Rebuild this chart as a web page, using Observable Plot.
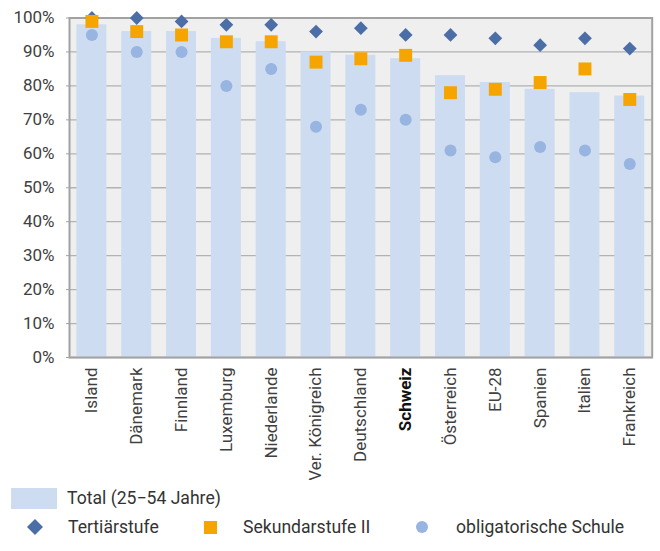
<!DOCTYPE html>
<html>
<head>
<meta charset="utf-8">
<script src="https://cdn.jsdelivr.net/npm/d3@7"></script>
<script src="https://cdn.jsdelivr.net/npm/@observablehq/plot@0.6"></script>
<style>
  body { margin: 0; background: #fff; font-family: Roboto, sans-serif; }
  #wrap { width: 660px; position: relative; }
  #legend { position: relative; height: 71px; font-family: Roboto, sans-serif; font-size: 17.6px; color: #333; }
  #legend .item { position: absolute; white-space: nowrap; }
</style>
</head>
<body>
<div id="wrap">
  <div id="chart"></div>
  <div id="legend"></div>
</div>
<script>
const countries = ["Island", "Dänemark", "Finnland", "Luxemburg", "Niederlande", "Ver. Königreich", "Deutschland", "Schweiz", "Österreich", "EU-28", "Spanien", "Italien", "Frankreich"];
const total      = [98, 96, 96, 94, 93, 90, 89, 88, 83, 81, 79, 78, 77];
const tertiaer   = [100, 100, 99, 98, 98, 96, 97, 95, 95, 94, 92, 94, 91];
const sekundar   = [99, 96, 95, 93, 93, 87, 88, 89, 78, 79, 81, 85, 76];
const obligat    = [95, 90, 90, 80, 85, 68, 73, 70, 61, 59, 62, 61, 57];
const yTicks = [0, 10, 20, 30, 40, 50, 60, 70, 80, 90, 100];

const seriesNames = { total: "Total (25−54 Jahre)", tertiaer: "Tertiärstufe", sekundar: "Sekundarstufe II", obligat: "obligatorische Schule" };
const colors = { total: "#cddcf0", tertiaer: "#4a6ea5", sekundar: "#f6a500", obligat: "#98b4e0" };

const data = countries.map((c, i) => ({ country: c, total: total[i], tertiaer: tertiaer[i], sekundar: sekundar[i], obligat: obligat[i] }));

const H = 480;
const chart = Plot.plot({
  width: 660,
  height: H,
  marginTop: 17.5,
  marginLeft: 69,
  marginRight: 8.3,
  marginBottom: H - 357,
  style: { fontFamily: "Roboto, sans-serif", fontSize: "17px", color: "#404040", background: "#fff" },
  x: { domain: countries, paddingInner: 0.33, paddingOuter: 0.165, round: false, label: null },
  y: { domain: [0, 100], label: null },
  marks: [
    Plot.frame({ fill: "#efefef", stroke: null }),
    Plot.ruleY(yTicks, { stroke: "#b2b2b2", strokeWidth: 1.3 }),
    Plot.barY(data, { x: "country", y: "total", fill: colors.total }),
    Plot.frame({ stroke: "#a2a2a2", strokeWidth: 2 }),
    Plot.axisY({ ticks: yTicks, tickFormat: d => d + "%", tickSize: 3, tickPadding: 12, stroke: "#a2a2a2", label: null }),
    Plot.axisX({ ticks: countries.filter(c => c !== "Schweiz"), tickRotate: -90, tickSize: 0, tickPadding: 10, label: null }),
    Plot.axisX({ ticks: ["Schweiz"], tickRotate: -90, tickSize: 0, tickPadding: 10, fontWeight: "bold", fill: "#111", label: null }),
    Plot.dot(data, { x: "country", y: "obligat", symbol: "circle", r: 6, fill: colors.obligat }),
    Plot.dot(data, { x: "country", y: "tertiaer", symbol: "diamond2", r: 6.2, fill: colors.tertiaer }),
    Plot.dot(data, { x: "country", y: "sekundar", symbol: "square", r: 7.3, fill: colors.sekundar })
  ]
});
document.getElementById("chart").appendChild(chart);

const legend = document.getElementById("legend");
const items = [
  { key: "total", sx: 11, tx: 67, row: 0, shape: "bar" },
  { key: "tertiaer", sx: 35, tx: 68, row: 1, shape: "diamond" },
  { key: "sekundar", sx: 210, tx: 243, row: 1, shape: "square" },
  { key: "obligat", sx: 422, tx: 456, row: 1, shape: "circle" }
];
const rowY = [18, 47];
for (const it of items) {
  const cy = rowY[it.row];
  const sw = document.createElementNS("http://www.w3.org/2000/svg", "svg");
  let w, h, inner;
  if (it.shape === "bar") { w = 46; h = 21; inner = `<rect width="46" height="21" fill="${colors[it.key]}"/>`; }
  else if (it.shape === "diamond") { w = 16; h = 16; inner = `<path d="M8 0L16 8L8 16L0 8Z" fill="${colors[it.key]}"/>`; }
  else if (it.shape === "square") { w = 13; h = 13; inner = `<rect width="13" height="13" fill="${colors[it.key]}"/>`; }
  else { w = 12; h = 12; inner = `<circle cx="6" cy="6" r="6" fill="${colors[it.key]}"/>`; }
  sw.setAttribute("width", w); sw.setAttribute("height", h);
  sw.innerHTML = inner;
  sw.style.position = "absolute";
  sw.style.left = (it.shape === "bar" ? it.sx : it.sx - w / 2) + "px";
  sw.style.top = (cy - h / 2) + "px";
  legend.appendChild(sw);
  const t = document.createElement("div");
  t.className = "item";
  t.textContent = seriesNames[it.key];
  t.style.left = it.tx + "px";
  t.style.top = (cy - 10) + "px";
  t.style.lineHeight = "20px";
  legend.appendChild(t);
}
</script>
</body>
</html>
